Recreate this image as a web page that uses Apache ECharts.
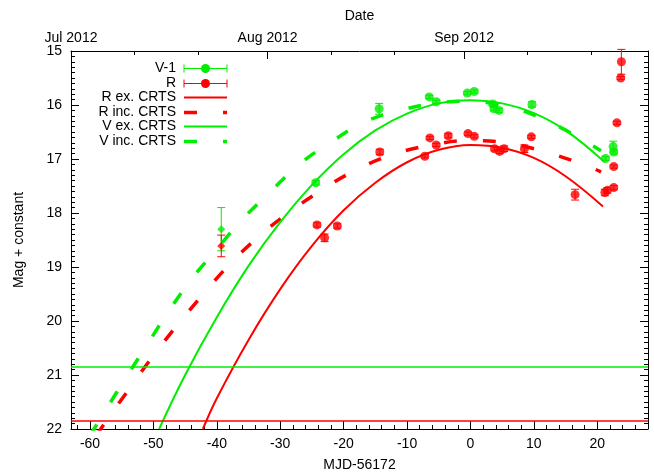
<!DOCTYPE html>
<html>
<head>
<meta charset="utf-8">
<script src="https://cdn.jsdelivr.net/npm/echarts@6/dist/echarts.min.js"></script>
<style>
html,body{margin:0;padding:0;background:#fff;}
#chart{width:654px;height:473px;}
</style>
</head>
<body>
<div id="chart"></div>
<script>
// ---------- data ----------
var xTickValues = [-60, -50, -40, -30, -20, -10, 0, 10, 20];
var dateTickValues = [-63, -32, -1];
var dateTickLabels = ['Jul 2012', 'Aug 2012', 'Sep 2012'];
var dateMinorTicks = [-53, -43, -22, -12, 9, 19];
var yTickValues = [15, 16, 17, 18, 19, 20, 21, 22];

// V-1 photometry
var vX   = [-24.4, -14.4, -6.5, -5.4, -0.5, 0.6, 3.5, 3.7, 4.5, 9.7, 21.3, 22.5, 22.6];
var vY   = [17.44, 16.07, 15.85, 15.94, 15.78, 15.75, 15.98, 16.07, 16.10, 15.99, 16.99, 16.77, 16.87];
var vErr = [0.04, 0.10, 0.03, 0.03, 0.03, 0.03, 0.04, 0.04, 0.04, 0.05, 0.04, 0.10, 0.04];

// R photometry
var rX   = [-24.2, -23.0, -21.0, -14.3, -7.2, -6.4, -5.4, -3.5, -0.4, 0.6, 3.8, 4.6, 5.3, 8.5, 9.6, 16.5, 21.2, 21.6, 22.6, 22.6, 23.1, 23.7, 23.8];
var rY   = [18.22, 18.46, 18.24, 16.87, 16.95, 16.61, 16.74, 16.57, 16.53, 16.58, 16.81, 16.86, 16.81, 16.81, 16.59, 17.66, 17.62, 17.58, 17.53, 17.14, 16.33, 15.50, 15.20];
var rErr = [0.04, 0.07, 0.04, 0.05, 0.03, 0.03, 0.03, 0.04, 0.03, 0.03, 0.04, 0.04, 0.05, 0.07, 0.03, 0.10, 0.06, 0.05, 0.04, 0.03, 0.03, 0.03, 0.23];

// CRTS points (diamonds)
var crtsX    = [-39.3];
var crtsV    = [18.30];
var crtsVErr = [0.40];
var crtsR    = [18.61];
var crtsRErr = [0.20];

// fit curves
var rExX = [-42.2, -40, -35, -30, -25, -20, -15, -10, -5, 0, 5, 10, 15, 20.9];
var rExY = [22.0, 21.43, 20.35, 19.41, 18.61, 17.95, 17.44, 17.06, 16.83, 16.74, 16.79, 16.98, 17.32, 17.88];
var rIncX = [-59, -57.5, -53.9, -50.2, -46.4, -42.2, -38.3, -33.9, -29.1, -23.9, -18.5, -12.6, -6.6, -0.3, 5.7, 11.8, 17.8, 20.6];
var rIncY = [22.12, 21.86, 21.27, 20.67, 20.10, 19.51, 18.99, 18.49, 18.03, 17.61, 17.23, 16.93, 16.75, 16.66, 16.70, 16.87, 17.10, 17.24];
var vExX = [-49.1, -45, -40, -35, -30, -25, -20, -15, -10, -5, 0, 5, 10, 15, 21.1];
var vExY = [22.0, 21.0, 19.93, 18.98, 18.17, 17.48, 16.91, 16.47, 16.16, 15.97, 15.91, 15.97, 16.15, 16.47, 17.05];
var vIncX = [-60, -57.8, -54.4, -51, -47.6, -44.1, -40.1, -36, -31.5, -27, -21.8, -16.6, -10.8, -5, 0, 4, 8.1, 14.1, 19.5, 20.6];
var vIncY = [22.12, 21.70, 21.06, 20.44, 19.82, 19.24, 18.68, 18.12, 17.60, 17.10, 16.67, 16.31, 16.09, 15.96, 15.93, 15.98, 16.10, 16.41, 16.77, 16.85];

// limits (horizontal lines)
var vLimit = 20.84;
var rLimit = 21.84;

// ---------- style ----------
var GREEN = '#00ee00';
var RED = '#ff0000';
var FONT = 'Liberation Sans, Arial, Helvetica, sans-serif';
var FS = 14;

function zip(a, b) { return a.map(function (v, i) { return [v, b[i]]; }); }
function errData(x, y, e) { return x.map(function (v, i) { return [v, y[i] - e[i], y[i] + e[i]]; }); }

function errSeries(data, color) {
  return {
    type: 'custom',
    xAxisIndex: 0, yAxisIndex: 0,
    data: data,
    encode: { x: 0, y: [1, 2] },
    silent: true,
    z: 3,
    renderItem: function (params, api) {
      var x = api.value(0);
      var p1 = api.coord([x, api.value(1)]);
      var p2 = api.coord([x, api.value(2)]);
      var hw = 4;
      var st = { stroke: color, lineWidth: 1 };
      return {
        type: 'group',
        children: [
          { type: 'line', shape: { x1: p1[0], y1: p1[1], x2: p2[0], y2: p2[1] }, style: st },
          { type: 'line', shape: { x1: p1[0] - hw, y1: p1[1], x2: p1[0] + hw, y2: p1[1] }, style: st },
          { type: 'line', shape: { x1: p2[0] - hw, y1: p2[1], x2: p2[0] + hw, y2: p2[1] }, style: st }
        ]
      };
    }
  };
}

var minorX = [];
for (var t = -62; t <= 28; t += 2) minorX.push(t);

var axisLineStyle = { color: '#000', width: 1 };

var option = {
  animation: false,
  backgroundColor: '#fff',
  textStyle: { fontFamily: FONT },
  grid: { left: 71, right: 6, top: 51, bottom: 44, containLabel: false, outerBoundsMode: 'none' },
  xAxis: [
    {
      type: 'value', position: 'bottom', min: -63, max: 28,
      name: 'MJD-56172', nameLocation: 'middle', nameGap: 29,
      nameTextStyle: { fontSize: FS, color: '#000', fontFamily: FONT },
      axisLine: { show: true, onZero: false, lineStyle: axisLineStyle },
      axisTick: { show: true, inside: true, length: 8, customValues: xTickValues, lineStyle: axisLineStyle },
      axisLabel: { show: true, customValues: xTickValues, fontSize: FS, color: '#000', margin: 8, fontFamily: FONT },
      splitLine: { show: false }
    },
    {
      type: 'value', position: 'top', min: -63, max: 28,
      name: 'Date', nameLocation: 'middle', nameGap: 28,
      nameTextStyle: { fontSize: FS, color: '#000', fontFamily: FONT },
      axisLine: { show: true, onZero: false, lineStyle: axisLineStyle },
      axisTick: { show: true, inside: true, length: 8, customValues: dateTickValues, lineStyle: axisLineStyle },
      axisLabel: {
        show: true, customValues: dateTickValues, fontSize: FS, color: '#000', margin: 6, fontFamily: FONT,
        showMinLabel: true, showMaxLabel: true,
        formatter: function (v) { var i = dateTickValues.indexOf(v); return i >= 0 ? dateTickLabels[i] : ''; }
      },
      splitLine: { show: false }
    },
    {
      type: 'value', position: 'top', min: -63, max: 28,
      axisLine: { show: false, onZero: false },
      axisTick: { show: true, inside: true, length: 4, customValues: dateMinorTicks, lineStyle: axisLineStyle },
      axisLabel: { show: false },
      splitLine: { show: false }
    },
    {
      type: 'value', position: 'bottom', min: -63, max: 28,
      axisLine: { show: false, onZero: false },
      axisTick: { show: true, inside: true, length: 4, customValues: minorX, lineStyle: axisLineStyle },
      axisLabel: { show: false },
      splitLine: { show: false }
    }
  ],
  yAxis: [
    {
      type: 'value', position: 'left', min: 15, max: 22, interval: 1, inverse: true,
      name: 'Mag + constant', nameLocation: 'middle', nameGap: 45,
      nameTextStyle: { fontSize: FS, color: '#000', fontFamily: FONT },
      axisLine: { show: true, onZero: false, lineStyle: axisLineStyle },
      axisTick: { show: true, inside: true, length: 8, lineStyle: axisLineStyle },
      minorTick: { show: true, splitNumber: 10, length: 4, lineStyle: axisLineStyle },
      axisLabel: { show: true, fontSize: FS, color: '#000', margin: 9, fontFamily: FONT,
        formatter: function (v) { return yTickValues.indexOf(v) >= 0 ? String(v) : ''; } },
      splitLine: { show: false }
    },
    {
      type: 'value', position: 'right', min: 15, max: 22, interval: 1, inverse: true,
      axisLine: { show: true, onZero: false, lineStyle: axisLineStyle },
      axisTick: { show: true, inside: true, length: 8, lineStyle: axisLineStyle },
      minorTick: { show: true, splitNumber: 10, length: 4, lineStyle: axisLineStyle },
      axisLabel: { show: false },
      splitLine: { show: false }
    }
  ],
  series: [
    errSeries(errData(vX, vY, vErr), GREEN),
    errSeries(errData(rX, rY, rErr), RED),
    errSeries(errData(crtsX, crtsV, crtsVErr), GREEN),
    errSeries(errData(crtsX, crtsR, crtsRErr), RED),
    {
      name: 'V-1', type: 'scatter', data: zip(vX, vY), symbol: 'circle', symbolSize: 9,
      itemStyle: { color: GREEN }, z: 3, silent: true
    },
    {
      name: 'R', type: 'scatter', data: zip(rX, rY), symbol: 'circle', symbolSize: 9,
      itemStyle: { color: RED }, z: 3, silent: true
    },
    {
      name: 'V CRTS', type: 'scatter', data: zip(crtsX, crtsV), symbol: 'diamond', symbolSize: [8, 8],
      itemStyle: { color: GREEN }, z: 3, silent: true
    },
    {
      name: 'R CRTS', type: 'scatter', data: zip(crtsX, crtsR), symbol: 'diamond', symbolSize: [8, 8],
      itemStyle: { color: RED }, z: 3, silent: true
    },
    {
      name: 'R ex. CRTS', type: 'line', data: zip(rExX, rExY), smooth: 0.4, showSymbol: false, clip: true,
      lineStyle: { color: RED, width: 2 }, z: 4, silent: true,
      markLine: {
        silent: true, symbol: 'none', label: { show: false },
        lineStyle: { color: RED, width: 1.5, type: 'solid' },
        data: [{ yAxis: rLimit }]
      }
    },
    {
      name: 'R inc. CRTS', type: 'line', data: zip(rIncX, rIncY), smooth: 0.4, showSymbol: false, clip: true,
      lineStyle: { color: RED, width: 3.5, type: [13, 26], cap: 'butt' }, z: 4, silent: true
    },
    {
      name: 'V ex. CRTS', type: 'line', data: zip(vExX, vExY), smooth: 0.4, showSymbol: false, clip: true,
      lineStyle: { color: GREEN, width: 2 }, z: 4, silent: true,
      markLine: {
        silent: true, symbol: 'none', label: { show: false },
        lineStyle: { color: GREEN, width: 1.5, type: 'solid' },
        data: [{ yAxis: vLimit }]
      }
    },
    {
      name: 'V inc. CRTS', type: 'line', data: zip(vIncX, vIncY), smooth: 0.4, showSymbol: false, clip: true,
      lineStyle: { color: GREEN, width: 3.5, type: [13, 26], cap: 'butt' }, z: 4, silent: true
    }
  ],
  graphic: (function () {
    var items = [
      { label: 'V-1', color: GREEN, kind: 'err' },
      { label: 'R', color: RED, kind: 'err' },
      { label: 'R ex. CRTS', color: RED, kind: 'solid' },
      { label: 'R inc. CRTS', color: RED, kind: 'dash' },
      { label: 'V ex. CRTS', color: GREEN, kind: 'solid' },
      { label: 'V inc. CRTS', color: GREEN, kind: 'dash' }
    ];
    var els = [];
    var x0 = 184, x1 = 227, tx = 176, y0 = 68, dy = 14.6;
    items.forEach(function (it, i) {
      var y = Math.round(y0 + i * dy) + 0.5;
      els.push({ type: 'text', x: tx, y: y, style: { text: it.label, fill: '#000', font: FS + 'px ' + FONT, align: 'right', verticalAlign: 'middle' }, silent: true });
      if (it.kind === 'err') {
        var st = { stroke: it.color, lineWidth: 1 };
        els.push({ type: 'line', shape: { x1: x0, y1: y, x2: x1, y2: y }, style: st, silent: true });
        els.push({ type: 'line', shape: { x1: x0, y1: y - 4, x2: x0, y2: y + 4 }, style: st, silent: true });
        els.push({ type: 'line', shape: { x1: x1, y1: y - 4, x2: x1, y2: y + 4 }, style: st, silent: true });
        els.push({ type: 'circle', shape: { cx: (x0 + x1) / 2, cy: y, r: 4.5 }, style: { fill: it.color }, silent: true });
      } else if (it.kind === 'solid') {
        els.push({ type: 'line', shape: { x1: x0, y1: y, x2: x1, y2: y }, style: { stroke: it.color, lineWidth: 2 }, silent: true });
      } else {
        els.push({ type: 'line', shape: { x1: x0, y1: y, x2: x1, y2: y }, style: { stroke: it.color, lineWidth: 3.5, lineDash: [13, 26], lineCap: 'butt' }, silent: true });
      }
    });
    return els;
  })()
};

var chart = echarts.init(document.getElementById('chart'), null, { renderer: 'canvas' });
chart.setOption(option);
</script>
</body>
</html>
